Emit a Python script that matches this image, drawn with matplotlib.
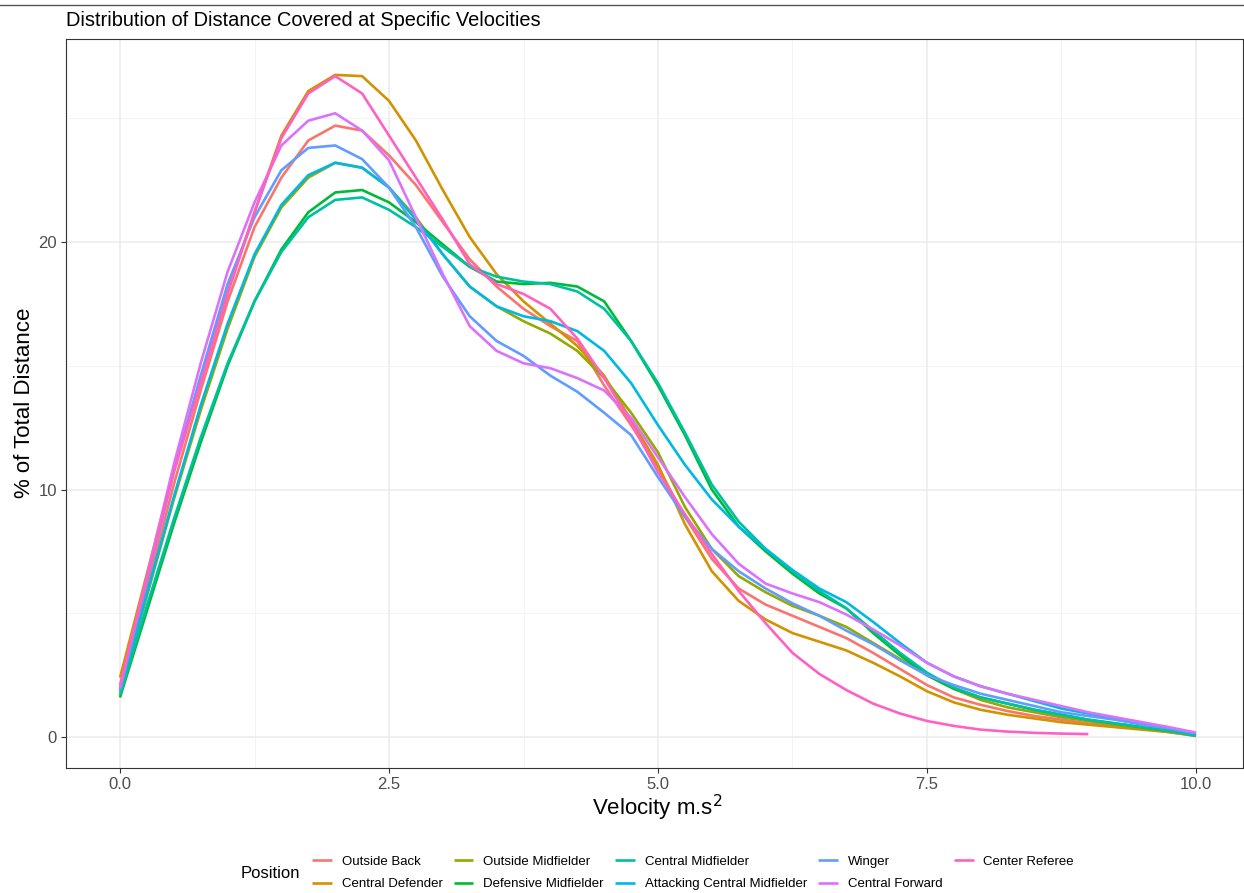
import numpy as np
import matplotlib.pyplot as plt
from matplotlib.lines import Line2D
from matplotlib.ticker import MultipleLocator

plt.rcParams['font.family'] = ['Liberation Sans', 'DejaVu Sans']

# velocity grid (m.s^2) at which the curves were read
velocity = [0.0, 0.25, 0.5, 0.75, 1.0, 1.25, 1.5, 1.75, 2.0, 2.25,
            2.5, 2.75, 3.0, 3.25, 3.5, 3.75, 4.0, 4.25, 4.5, 4.75,
            5.0, 5.25, 5.5, 5.75, 6.0, 6.25, 6.5, 6.75, 7.0, 7.25,
            7.5, 7.75, 8.0, 8.25, 8.5, 8.75, 9.0, 9.25, 9.5, 9.75, 10.0]

outside_back = [1.9, 6.0, 10.2, 14.0, 17.6, 20.6, 22.6, 24.1, 24.7, 24.5,
                23.5, 22.3, 20.8, 19.3, 18.2, 17.3, 16.6, 16.0, 14.2, 12.6,
                10.9, 8.9, 7.2, 6.0, 5.35, 4.9, 4.45, 4.0, 3.4, 2.75,
                2.1, 1.6, 1.3, 1.05, 0.85, 0.7, 0.55, 0.45, 0.35, 0.2, 0.05]
central_defender = [2.4, 6.6, 10.8, 14.5, 18.0, 21.2, 24.3, 26.1, 26.75, 26.7,
                    25.7, 24.1, 22.1, 20.2, 18.7, 17.6, 16.7, 15.8, 14.6, 12.8,
                    11.0, 8.6, 6.7, 5.5, 4.75, 4.2, 3.85, 3.5, 3.0, 2.45,
                    1.85, 1.4, 1.1, 0.9, 0.75, 0.6, 0.5, 0.4, 0.3, 0.2, 0.05]
outside_midfielder = [1.8, 5.7, 9.6, 13.2, 16.5, 19.4, 21.4, 22.6, 23.2, 23.0,
                      22.2, 21.0, 19.5, 18.2, 17.4, 16.8, 16.3, 15.6, 14.5, 13.1,
                      11.5, 9.3, 7.6, 6.5, 5.85, 5.3, 4.9, 4.45, 3.8, 3.15,
                      2.5, 1.95, 1.5, 1.2, 1.0, 0.8, 0.65, 0.5, 0.35, 0.22, 0.08]
defensive_midfielder = [1.6, 5.1, 8.6, 11.9, 15.0, 17.6, 19.7, 21.2, 22.0, 22.1,
                        21.6, 20.8, 19.9, 19.0, 18.4, 18.3, 18.35, 18.2, 17.6, 16.0,
                        14.2, 12.2, 10.0, 8.5, 7.5, 6.6, 5.8, 5.2, 4.2, 3.3,
                        2.5, 1.95, 1.6, 1.35, 1.1, 0.9, 0.7, 0.55, 0.4, 0.25, 0.08]
central_midfielder = [1.7, 5.3, 8.8, 12.1, 15.1, 17.6, 19.6, 21.0, 21.7, 21.8,
                      21.3, 20.6, 19.8, 19.0, 18.6, 18.4, 18.3, 18.0, 17.3, 16.0,
                      14.3, 12.3, 10.2, 8.7, 7.6, 6.7, 5.9, 5.2, 4.3, 3.4,
                      2.6, 2.0, 1.6, 1.35, 1.1, 0.9, 0.7, 0.55, 0.4, 0.25, 0.05]
attacking_central_midfielder = [1.9, 5.8, 9.7, 13.4, 16.7, 19.5, 21.5, 22.7, 23.2, 23.0,
                                22.2, 20.9, 19.5, 18.2, 17.4, 17.0, 16.8, 16.4, 15.6, 14.3,
                                12.6, 11.0, 9.6, 8.5, 7.6, 6.75, 6.0, 5.45, 4.65, 3.8,
                                3.0, 2.45, 2.05, 1.75, 1.45, 1.15, 0.95, 0.75, 0.55, 0.35, 0.12]
winger = [1.9, 6.3, 10.7, 14.6, 18.3, 21.0, 22.9, 23.8, 23.9, 23.35,
          22.2, 20.6, 18.6, 17.0, 16.0, 15.4, 14.6, 13.95, 13.1, 12.2,
          10.5, 8.9, 7.6, 6.7, 6.0, 5.4, 4.9, 4.3, 3.75, 3.1,
          2.5, 2.1, 1.75, 1.5, 1.25, 1.0, 0.85, 0.7, 0.5, 0.35, 0.15]
central_forward = [2.0, 6.5, 11.0, 15.1, 18.8, 21.6, 23.9, 24.9, 25.2, 24.5,
                   23.3, 21.0, 18.7, 16.6, 15.6, 15.1, 14.9, 14.5, 14.0, 12.9,
                   11.3, 9.7, 8.2, 7.0, 6.2, 5.8, 5.45, 4.95, 4.35, 3.7,
                   3.0, 2.45, 2.05, 1.75, 1.5, 1.25, 1.0, 0.8, 0.6, 0.4, 0.18]
center_referee = [2.1, 6.4, 10.7, 14.3, 17.9, 21.2, 24.2, 26.0, 26.7, 26.0,
                  24.3, 22.6, 20.9, 19.1, 18.3, 17.9, 17.3, 16.1, 14.5, 12.7,
                  10.7, 9.0, 7.4, 5.9, 4.6, 3.4, 2.55, 1.9, 1.35, 0.95,
                  0.65, 0.45, 0.3, 0.22, 0.17, 0.14, 0.12]

positions = ["Outside Back", "Central Defender", "Outside Midfielder",
             "Defensive Midfielder", "Central Midfielder",
             "Attacking Central Midfielder", "Winger", "Central Forward",
             "Center Referee"]
series = [outside_back, central_defender, outside_midfielder,
          defensive_midfielder, central_midfielder,
          attacking_central_midfielder, winger, central_forward,
          center_referee]
colors = ["#F8766D", "#D39200", "#93AA00", "#00BA38", "#00C19F",
          "#00B9E3", "#619CFF", "#DB72FB", "#FF61C3"]

fig = plt.figure(figsize=(12.44, 8.93), dpi=100)
ax = fig.add_axes([66 / 1244, 1 - 768 / 893, (1243 - 66) / 1244, (768 - 39) / 893])

handles = []
for name, vals, col in zip(positions, series, colors):
    line, = ax.plot(velocity[:len(vals)], vals, color=col, lw=1.9,
                    solid_capstyle='butt', solid_joinstyle='round', label=name)
    handles.append(line)

ax.set_xlim(-0.502, 10.437)
ax.set_ylim(-1.25, 28.2)
ax.xaxis.set_major_locator(MultipleLocator(2.5))
ax.xaxis.set_minor_locator(MultipleLocator(1.25))
ax.yaxis.set_major_locator(MultipleLocator(10))
ax.yaxis.set_minor_locator(MultipleLocator(5))
ax.xaxis.set_major_formatter(plt.FuncFormatter(lambda v, p: f"{v:.1f}"))
ax.yaxis.set_major_formatter(plt.FuncFormatter(lambda v, p: f"{v:.0f}"))

ax.grid(which='major', color='#EBEBEB', lw=1.1)
ax.grid(which='minor', color='#F2F2F2', lw=0.6)
ax.set_axisbelow(True)
for s in ax.spines.values():
    s.set_color('#333333')
    s.set_linewidth(0.8)
ax.tick_params(which='major', length=3.5, width=0.8, color='#333333',
               labelsize=12, labelcolor='#4D4D4D', pad=3)
ax.tick_params(which='minor', length=0)

fig.text(66 / 1244, 1 - 20 / 893,
         "Distribution of Distance Covered at Specific Velocities",
         fontsize=14.4, ha='left', va='center')
fig.text(25 / 1244, 1 - 403 / 893, "% of Total Distance", fontsize=16,
         rotation=90, ha='center', va='center')
fig.text(657 / 1244, 1 - 808 / 893, "Velocity m.s$^2$", fontsize=16,
         ha='center', va='center')

fig.add_artist(Line2D([0, 1], [1 - 5 / 893, 1 - 5 / 893], color='#555555',
                      lw=1, transform=fig.transFigure))

fig.text(241 / 1244, 1 - 873 / 893, "Position", fontsize=12,
         ha='left', va='center')
fig.legend(handles, positions, ncol=5, loc='center',
           bbox_to_anchor=(693 / 1244, 1 - 873 / 893), frameon=False,
           fontsize=9.5, handlelength=1.5, handletextpad=0.75,
           columnspacing=0.85, labelspacing=0.75)

fig.savefig("out.png", dpi=100)
